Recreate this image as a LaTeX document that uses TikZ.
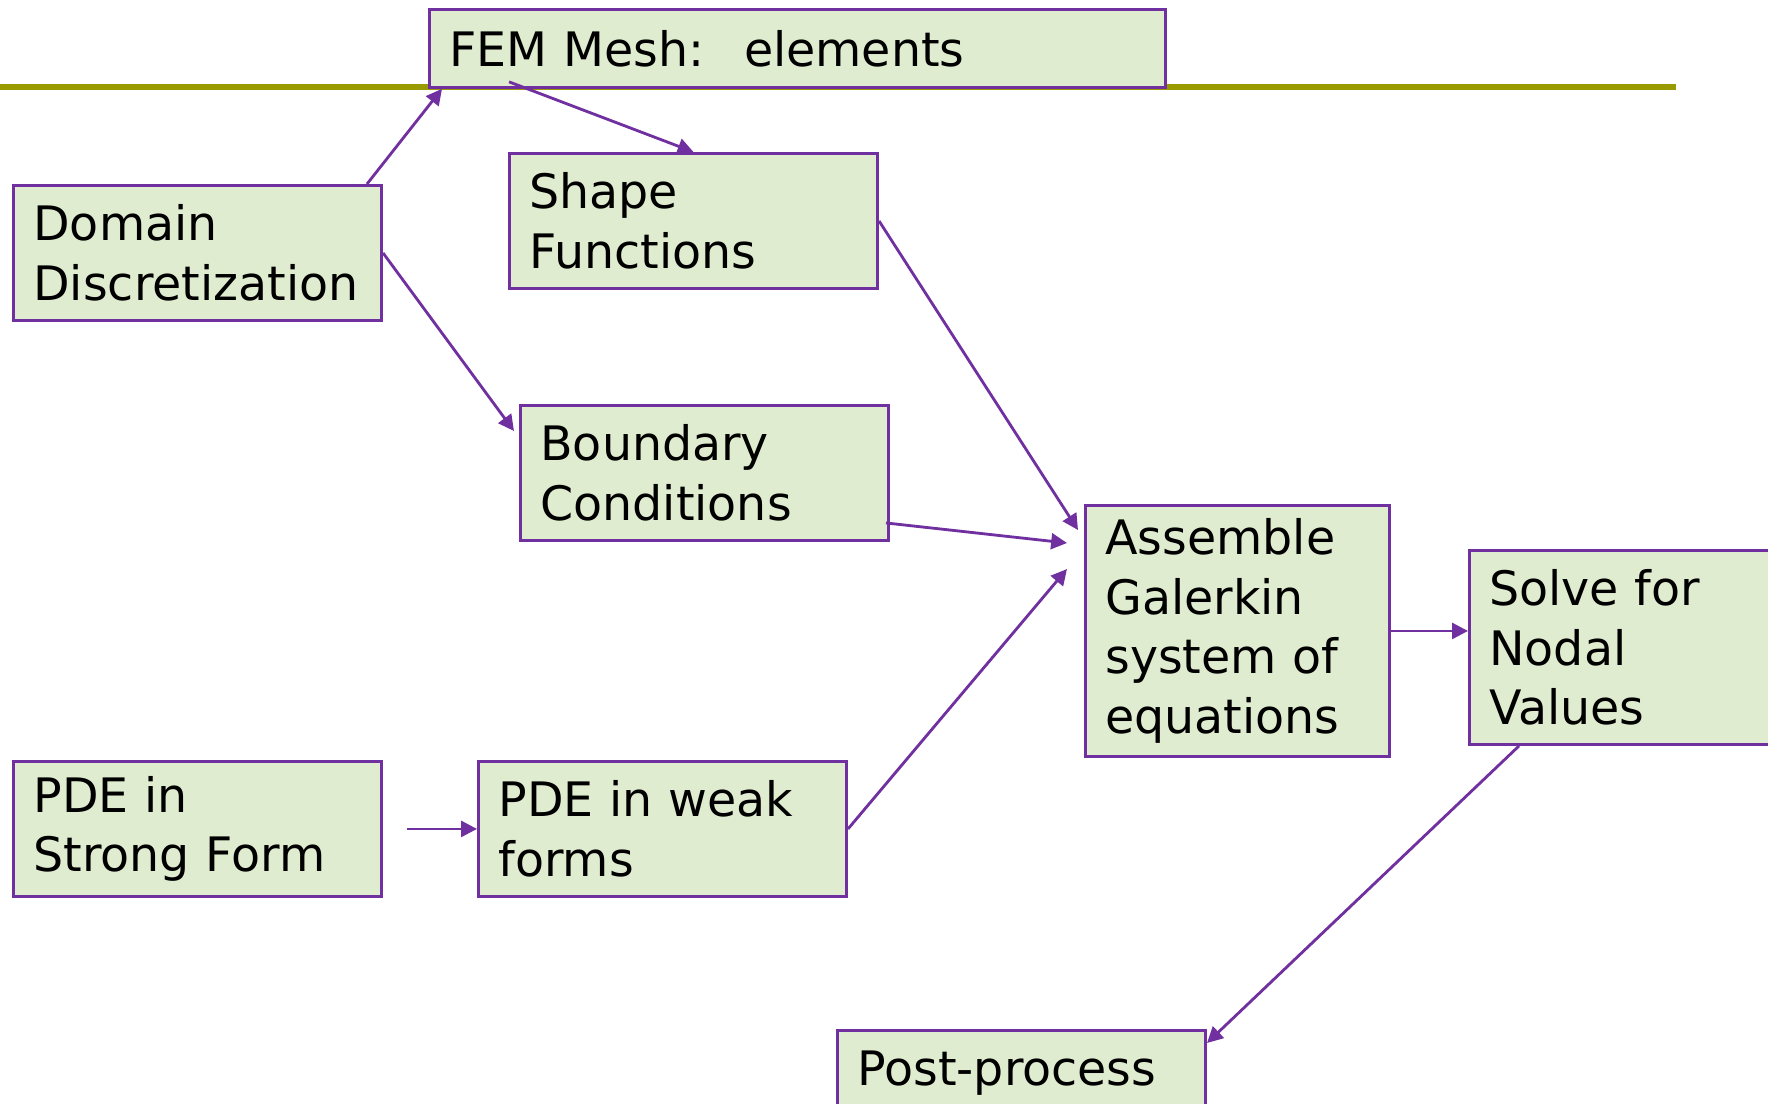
\documentclass[tikz,border=0pt]{standalone}
\usepackage{fontspec}
\setmainfont{DejaVu Sans}
\usetikzlibrary{arrows.meta, positioning}

\definecolor{boxfill}{RGB}{224,236,207}
\definecolor{boxline}{RGB}{112,48,160}
\definecolor{ruleline}{RGB}{153,153,0}

\begin{document}
\begin{tikzpicture}[x=0.01cm, y=-0.01cm,
  box/.style={rectangle, draw=boxline, fill=boxfill, line width=0.8pt,
              anchor=north west, align=left, inner xsep=0.2cm, inner ysep=0pt,
              text width=3.28cm, minimum height=1.35cm,
              font=\fontsize{13.5}{16.9}\selectfont},
  arrow/.style={-{Triangle[length=4.5pt,width=4.5pt]}, draw=boxline, line width=0.8pt}
]
\useasboundingbox (0,0) rectangle (1768,1104);
\clip (0,0) rectangle (1768,1104);

% title rule
\draw[ruleline, line width=1.5pt] (0,87) -- (1676,87);

\node[box, text width=6.96cm, minimum height=0.78cm] (fem) at (428,8)
                    {FEM Mesh:\ \ \hspace{0.08cm}elements};
\node[box] (shape)  at (508,152) {Shape\\Functions};
\node[box] (domain) at (12,184)  {Domain\\Discretization};
\node[box] (bc)     at (519,404) {Boundary\\Conditions};
\node[box, text width=2.64cm, minimum height=2.51cm] (assemble) at (1084,504)
                    {Assemble\\Galerkin\\system of\\equations};
\node[box, minimum height=1.94cm] (solve) at (1468,549)
                    {Solve for\\Nodal\\Values};
\node[box] (strong) at (12,760)  {PDE in\\Strong Form};
\node[box] (weak)   at (477,760) {PDE in weak\\forms};
\node[box] (post)   at (836,1029) {Post-process\\\mbox{}};

\draw[arrow] ([xshift=-0.16cm]domain.north east) -- ([xshift=0.14cm]fem.south west);
\draw[arrow] ([shift={(0.81cm,0.07cm)}]fem.south west) -- (shape.north);
\draw[arrow] (domain.east) -- ([shift={(-0.05cm,-0.27cm)}]bc.north west);
\draw[arrow] (shape.east) -- ([shift={(-0.06cm,-0.26cm)}]assemble.north west);
\draw[arrow] ([shift={(-0.04cm,-0.5cm)}]bc.east) -- ([shift={(-0.17cm,-0.39cm)}]assemble.north west);
\draw[arrow] (weak.east) -- ([shift={(-0.17cm,-0.65cm)}]assemble.north west);
\draw[arrow] ([xshift=0.24cm]strong.east) -- (weak.west);
\draw[arrow] (assemble.east) -- (assemble.east -| solve.west);
\draw[arrow] ([xshift=0.51cm]solve.south west) -- ([yshift=-0.14cm]post.north east);
\end{tikzpicture}
\end{document}
